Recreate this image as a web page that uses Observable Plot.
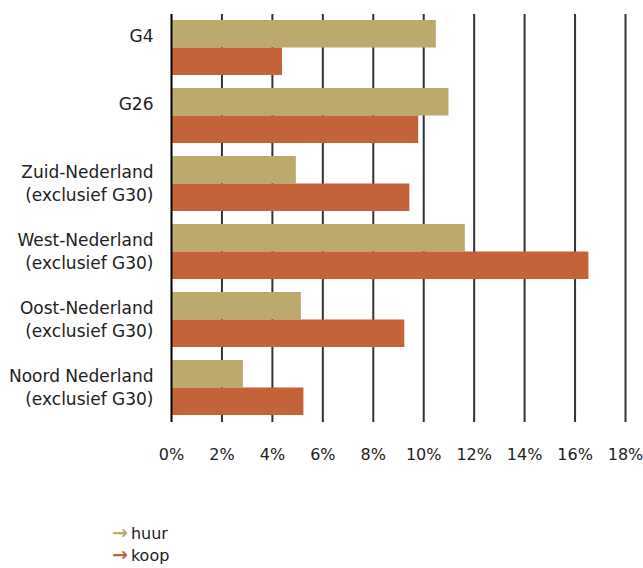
<!DOCTYPE html>
<html><head><meta charset="utf-8">
<script src="https://cdn.jsdelivr.net/npm/d3@7"></script>
<script src="https://cdn.jsdelivr.net/npm/@observablehq/plot@0.6"></script>
<style>
body{margin:0;background:#fff;font-family:"DejaVu Sans",sans-serif;color:#222;overflow:hidden;}
#legend{margin-top:51px;padding-left:112px;font-size:16px;line-height:22px;}
#legend div{height:22px;}
#legend .a{font-weight:bold;font-size:19px;margin-right:3px;}
</style></head><body>
<div id="chart"></div>
<div id="legend"></div>
<script>
const regions = ["G4","G26","Zuid-Nederland","West-Nederland","Oost-Nederland","Noord Nederland"];
const regionLabels = ["G4\n ","G26\n ","Zuid-Nederland\n(exclusief G30)","West-Nederland\n(exclusief G30)","Oost-Nederland\n(exclusief G30)","Noord Nederland\n(exclusief G30)"];
const huur = [10.5, 11.0, 4.95, 11.65, 5.15, 2.85];
const koop = [4.4, 9.8, 9.45, 16.55, 9.25, 5.25];
const series = ["huur","koop"];
const colors = ["#bca96d","#c4623a"];
const xTicks = [0,2,4,6,8,10,12,14,16,18];

const data = regions.flatMap((r,i)=>[
  {region:r, type:"huur", value:huur[i]},
  {region:r, type:"koop", value:koop[i]}
]);

const half = 27.5;
const chart = Plot.plot({
  width:643, height:470,
  marginLeft:171, marginRight:18, marginTop:14, marginBottom:48,
  style:{fontFamily:"'DejaVu Sans', sans-serif", fontSize:"16px", color:"#222"},
  x:{domain:[0,18], ticks:xTicks, tickFormat:d=>d+"%", label:null},
  y:{domain:regions, padding:0.19, paddingOuter:0.095, label:null},
  color:{domain:series, range:colors},
  marks:[
    Plot.gridX(xTicks.slice(1), {stroke:"#333", strokeOpacity:1, strokeWidth:2}),
    Plot.barX(data.filter(d=>d.type==="huur"), {x:"value", y:"region", fill:"type", insetBottom:half}),
    Plot.barX(data.filter(d=>d.type==="koop"), {x:"value", y:"region", fill:"type", insetTop:half}),
    Plot.ruleX([0], {stroke:"#000", strokeWidth:2}),
    Plot.axisX({ticks:xTicks, tickFormat:d=>d+"%", tickSize:0, tickPadding:26, label:null, fontSize:16}),
    Plot.axisY({tickSize:0, tickPadding:18, label:null, fontSize:17, lineHeight:1.35, dy:-2,
      tickFormat:d=>regionLabels[regions.indexOf(d)]})
  ]
});
document.getElementById("chart").append(chart);
document.getElementById("legend").innerHTML = series.map((s,i)=>
  `<div><span class="a" style="color:${colors[i]}">&#8594;</span>${s}</div>`).join("");
</script>
</body></html>
